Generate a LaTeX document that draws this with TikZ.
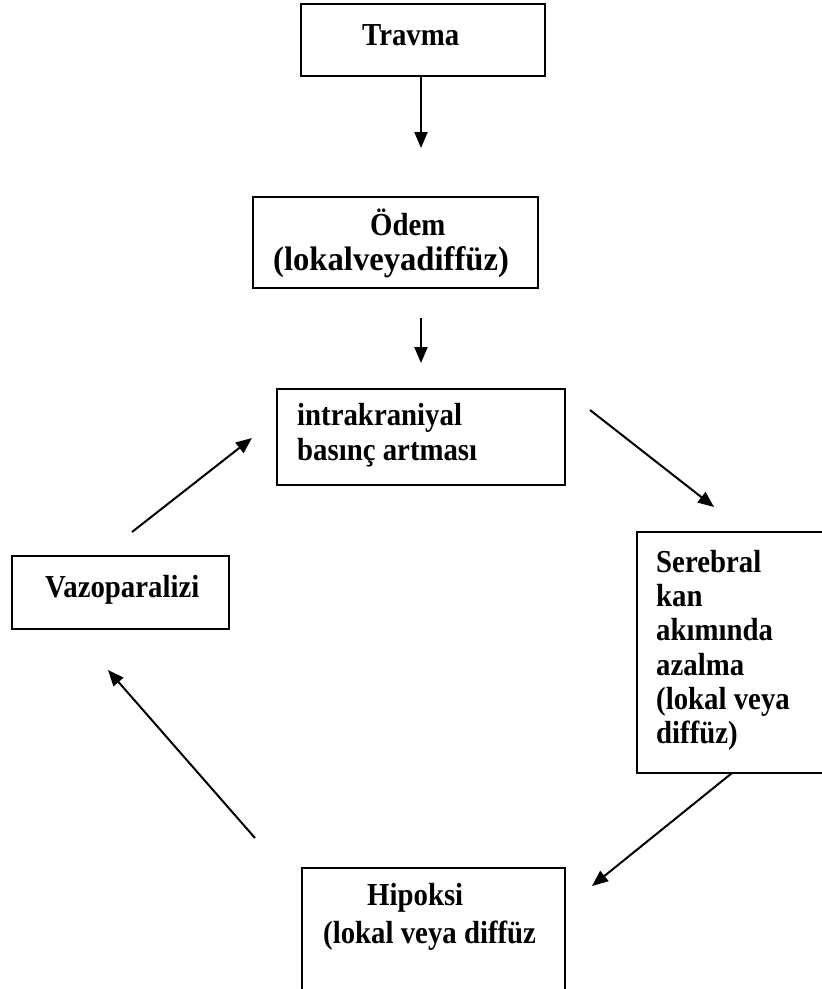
\documentclass[tikz,border=0pt]{standalone}
\usepackage{fontspec}
\setmainfont{Liberation Serif}[FakeStretch=0.9]
\newfontfamily\widerserif{Liberation Serif}[FakeStretch=0.96]
\usetikzlibrary{arrows.meta}
\tikzset{
  boxnode/.style={draw=black, line width=2pt, rectangle, inner sep=0pt},
  txt/.style={anchor=base west, inner sep=0pt, font=\fontsize{32}{34}\selectfont\bfseries},
  widetxt/.style={anchor=base west, inner sep=0pt, font=\widerserif\fontsize{34}{36}\selectfont\bfseries},
  arr/.style={line width=2pt, -{Triangle[length=16pt,width=13pt]}}
}
\newcommand{\mkbox}[5]{% name, x1, y1, x2, y2
  \node[boxnode, minimum width={(#4-#2)*1pt}, minimum height={(#5-#3)*1pt}] (#1) at ({(#2+#4)/2},{(#3+#5)/2}) {};}
\begin{document}
\begin{tikzpicture}[x=1pt,y=-1pt]
\useasboundingbox (0,0) rectangle (822,989);
\clip (0,0) rectangle (822,989);
% boxes
\mkbox{travma}{301}{4}{545}{76}
\mkbox{odem}{253}{197}{538}{288}
\mkbox{ikb}{277}{389}{565}{485}
\mkbox{serebral}{637}{532}{840}{773}
\mkbox{vazo}{12}{556}{229}{629}
\mkbox{hipoksi}{302}{868}{565}{1000}
% texts
\node[txt] (t1) at (362,45) {Travma};
\node[txt] (t2a) at (370,235) {Ödem};
\node[widetxt] (t2b) at (273,270) {(lokalveyadiffüz)};
\node[txt] (t3a) at (297,425) {intrakraniyal};
\node[txt] (t3b) at (297,460) {basınç artması};
\node[txt] (t4a) at (656,572) {Serebral};
\node[txt] (t4b) at (656,606) {kan};
\node[txt] (t4c) at (656,640) {akımında};
\node[txt] (t4d) at (656,675) {azalma};
\node[txt] (t4e) at (656,709) {(lokal veya};
\node[txt] (t4f) at (656,743) {diffüz)};
\node[txt] (t5) at (45,597) {Vazoparalizi};
\node[txt] (t6a) at (367,905) {Hipoksi};
\node[txt] (t6b) at (323,943) {(lokal veya diffüz};
% arrow end points
\coordinate (a1s) at (421,77);  \coordinate (a1e) at (421,148);
\coordinate (a2s) at (421,318); \coordinate (a2e) at (421,363);
\coordinate (a3s) at (590,410); \coordinate (a3e) at (714,507);
\coordinate (a4s) at (732,773); \coordinate (a4e) at (592,886);
\coordinate (a5s) at (255,838); \coordinate (a5e) at (108,670);
\coordinate (a6s) at (132,532); \coordinate (a6e) at (252,438);
\draw[arr] (a1s) -- (a1e);
\draw[arr] (a2s) -- (a2e);
\draw[arr] (a3s) -- (a3e);
\draw[arr] (a4s) -- (a4e);
\draw[arr] (a5s) -- (a5e);
\draw[arr] (a6s) -- (a6e);
\end{tikzpicture}
\end{document}
